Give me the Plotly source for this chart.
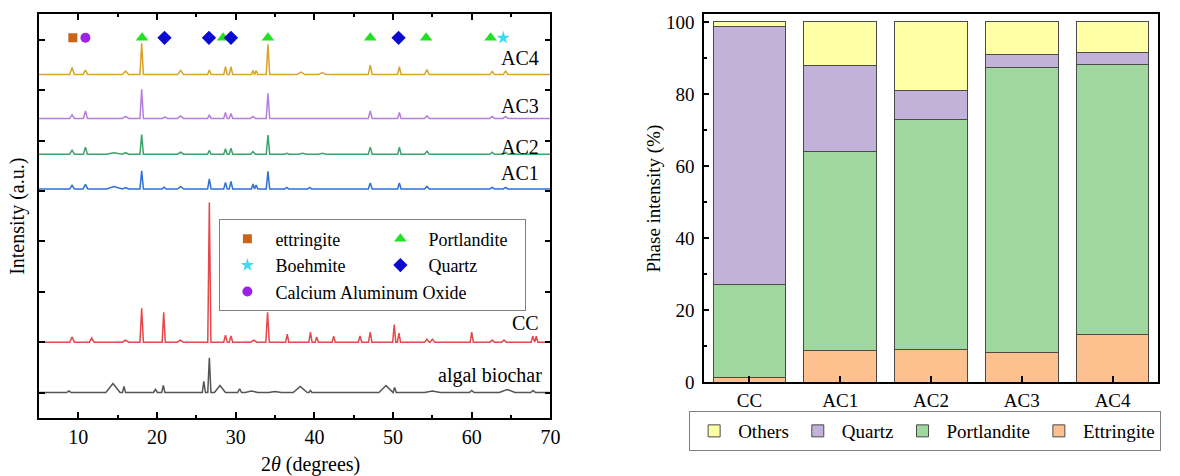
import plotly.graph_objects as go

FONT = "Liberation Serif"

# ---------------- XRD patterns (left panel) ----------------
# peaks: 2-theta position (deg), intensity above baseline (a.u.), half-width at base (deg)
# 100 a.u. = one y tick interval
ac4_pos = [9.2, 10.9, 16.0, 18.05, 23.0, 26.65, 28.7, 29.4, 32.2, 32.6, 34.1, 38.3, 41.0, 47.1, 50.8, 54.3, 62.6, 64.3]
ac4_int = [14, 9, 7, 62, 8, 9, 16, 16, 8, 8, 60, 5, 4, 19, 16, 10, 6, 7]
ac4_hw = [0.3, 0.3, 0.4, 0.22, 0.4, 0.22, 0.22, 0.22, 0.2, 0.2, 0.22, 0.5, 0.5, 0.25, 0.22, 0.3, 0.3, 0.3]

ac3_pos = [9.2, 10.9, 16.0, 18.05, 21.0, 23.0, 26.65, 28.7, 29.4, 32.2, 34.1, 47.1, 50.8, 54.3, 62.6, 64.3]
ac3_int = [7, 15, 4, 58, 3, 5, 7, 12, 10, 4, 50, 15, 12, 5, 4, 4]
ac3_hw = [0.3, 0.25, 0.4, 0.22, 0.3, 0.4, 0.22, 0.22, 0.22, 0.3, 0.22, 0.25, 0.22, 0.3, 0.3, 0.3]

ac2_pos = [9.2, 10.9, 14.5, 16.0, 18.05, 23.0, 26.65, 28.7, 29.4, 32.2, 34.1, 36.5, 38.5, 41.0, 47.1, 50.8, 54.3, 62.6, 64.3]
ac2_int = [8, 14, 3, 3, 39, 4, 8, 11, 12, 5, 38, 2, 2, 2, 14, 14, 6, 4, 4]
ac2_hw = [0.3, 0.25, 0.9, 0.4, 0.22, 0.4, 0.22, 0.22, 0.22, 0.3, 0.22, 0.3, 0.5, 0.5, 0.25, 0.22, 0.3, 0.3, 0.3]

ac1_pos = [9.2, 10.9, 14.5, 16.0, 18.05, 20.9, 23.0, 26.65, 28.7, 29.4, 32.2, 32.6, 34.1, 36.5, 39.4, 47.1, 50.8, 54.3, 62.6, 64.3]
ac1_int = [7, 9, 5, 3, 36, 4, 5, 20, 13, 15, 10, 8, 35, 3, 3, 12, 12, 5, 3, 3]
ac1_hw = [0.3, 0.3, 0.9, 0.4, 0.22, 0.25, 0.4, 0.22, 0.22, 0.22, 0.2, 0.2, 0.22, 0.25, 0.25, 0.25, 0.22, 0.3, 0.3, 0.3]

cc_pos = [9.2, 11.7, 16.0, 18.05, 20.85, 22.95, 26.65, 28.7, 29.4, 32.3, 34.05, 36.55, 39.5, 40.3, 42.45,
          45.8, 47.1, 50.15, 50.75, 54.3, 55.0, 60.0, 62.6, 64.1, 67.75, 68.2]
cc_int = [10, 8, 4, 67, 59, 4, 277, 14, 12, 4, 59, 16, 20, 10, 12, 12, 20, 35, 18, 6, 6, 20, 4, 4, 12, 12]
cc_hw = [0.3, 0.3, 0.4, 0.22, 0.2, 0.4, 0.2, 0.22, 0.22, 0.4, 0.22, 0.2, 0.2, 0.2, 0.2,
         0.22, 0.22, 0.2, 0.2, 0.3, 0.3, 0.2, 0.3, 0.3, 0.2, 0.2]

bc_pos = [8.8, 14.4, 15.8, 19.8, 20.8, 25.95, 26.65, 28.0, 30.5, 32.0, 35.0, 38.2, 39.5, 49.1, 50.2, 55.0, 60.0, 64.5, 67.8]
bc_int = [3, 18, 12, 6, 14, 22, 69, 14, 7, 3, 2, 12, 4, 14, 10, 3, 4, 6, 4]
bc_hw = [0.3, 0.9, 0.2, 0.25, 0.2, 0.2, 0.2, 0.7, 0.25, 0.8, 0.8, 0.9, 0.2, 0.9, 0.2, 1.0, 0.3, 1.0, 0.3]

# vertical offsets of the stacked patterns (a.u.)
offsets = {"AC4": 631, "AC3": 544, "AC2": 473, "AC1": 404, "CC": 100, "algal biochar": 0}
colors = {"AC4": "#D9A228", "AC3": "#B57EDC", "AC2": "#3AA56A", "AC1": "#2F6FD6",
          "CC": "#E5474B", "algal biochar": "#555555"}
patterns = {
    "AC4": (ac4_pos, ac4_int, ac4_hw),
    "AC3": (ac3_pos, ac3_int, ac3_hw),
    "AC2": (ac2_pos, ac2_int, ac2_hw),
    "AC1": (ac1_pos, ac1_int, ac1_hw),
    "CC": (cc_pos, cc_int, cc_hw),
    "algal biochar": (bc_pos, bc_int, bc_hw),
}
two_theta_range = [5, 70]

# phase identification marks (2-theta positions)
phases = [
    ("ettringite", [9.3], "square", "#C8651B", 9, "g1"),
    ("Boehmite", [64.0], "star", "#3FD9F2", 10, "g1"),
    ("Calcium Aluminum Oxide", [10.9], "circle", "#9B22E6", 10, "g1"),
    ("Portlandite", [18.1, 28.4, 34.1, 47.1, 54.2, 62.4], "triangle-up", "#22E022", 11, "g2"),
    ("Quartz", [20.95, 26.6, 29.4, 50.7], "diamond", "#0A0AD0", 11, "g2"),
]
mark_row = 704

# ---------------- phase intensity (right panel) ----------------
categories = ["CC", "AC1", "AC2", "AC3", "AC4"]
ettringite = [1.3, 8.8, 9.1, 8.1, 13.1]
portlandite = [25.7, 55.2, 63.8, 79.2, 75.1]
quartz = [71.8, 23.9, 8.1, 3.6, 3.2]
others = [1.2, 12.1, 19.0, 9.1, 8.6]
bar_series = [("Ettringite", ettringite, "#FDC18F"), ("Portlandite", portlandite, "#9FD79F"),
              ("Quartz", quartz, "#C2B1D8"), ("Others", others, "#FFFFA6")]

fig = go.Figure()


def profile(pos, inten, hw, base):
    xs, ys = [two_theta_range[0]], [base]
    for p, h, w in sorted(zip(pos, inten, hw)):
        xs += [p - w, p, p + w]
        ys += [base, base + h, base]
    xs.append(two_theta_range[1])
    ys.append(base)
    return xs, ys


for name, (pos, inten, hw) in patterns.items():
    xs, ys = profile(pos, inten, hw, offsets[name])
    fig.add_trace(go.Scatter(x=xs, y=ys, mode="lines", line=dict(color=colors[name], width=1.5),
                             showlegend=False, xaxis="x", yaxis="y", hoverinfo="skip"))

for name, xs, sym, col, size, grp in phases:
    fig.add_trace(go.Scatter(x=xs, y=[mark_row] * len(xs), mode="markers", name=name,
                             marker=dict(symbol=sym, color=col, size=size, line=dict(width=0)),
                             legendgroup=grp, legend="legend", xaxis="x", yaxis="y"))

for name, vals, col in bar_series:
    fig.add_trace(go.Bar(x=categories, y=vals, name=name, marker=dict(color=col, line=dict(color="#4a4a4a", width=1)),
                         width=0.8, legend="legend2", xaxis="x2", yaxis="y2"))

# labels of the patterns (right aligned)
label_y = {"AC4": 663, "AC3": 568, "AC2": 487, "AC1": 435, "CC": 138, "algal biochar": 33}
annotations = []
for name, yv in label_y.items():
    annotations.append(dict(x=68.8 if name != "algal biochar" else 69.2, y=yv, xref="x", yref="y",
                            text=name, showarrow=False, xanchor="right", yanchor="middle",
                            font=dict(family=FONT, size=20, color="black")))

annotations += [
    dict(x=-0.0198, y=0.5, xref="paper", yref="paper", text="Intensity (a.u.)", textangle=-90,
         showarrow=False, xanchor="center", yanchor="middle", font=dict(family=FONT, size=20, color="black")),
    dict(x=0.2423, y=-0.116, xref="paper", yref="paper", text="2<i>θ</i> (degrees)",
         showarrow=False, xanchor="center", yanchor="middle", font=dict(family=FONT, size=20, color="black")),
    dict(x=0.5500, y=0.5444, xref="paper", yref="paper", text="Phase intensity (%)", textangle=-90,
         showarrow=False, xanchor="center", yanchor="middle", font=dict(family=FONT, size=19, color="black")),
]

axis_common = dict(showline=True, linecolor="black", linewidth=1.5, showgrid=False, zeroline=False,
                   ticks="inside", tickcolor="black", tickwidth=1.5)

fig.update_layout(
    width=1180, height=476,
    margin=dict(l=39, r=12, t=13, b=58),
    paper_bgcolor="white", plot_bgcolor="white",
    font=dict(family=FONT, size=20, color="black"),
    barmode="stack",
    xaxis=dict(domain=[0, 0.45704], range=two_theta_range, dtick=10, tick0=10, mirror="ticks", ticklen=6,
               minor=dict(dtick=5, ticks="inside", ticklen=3, tickcolor="black", tickwidth=1.5),
               tickfont=dict(size=20), ticklabelstandoff=0, anchor="y", **axis_common),
    yaxis=dict(domain=[0, 1], range=[-50.6, 751.3], tickvals=[0, 100, 200, 300, 400, 500, 600, 700],
               showticklabels=False, mirror="ticks", ticklen=6, anchor="x", **axis_common),
    xaxis2=dict(domain=[0.59433, 1], range=[-0.5, 4.5], mirror=True, ticklen=6, tickfont=dict(size=19),
                anchor="y2", **axis_common),
    yaxis2=dict(domain=[0.08889, 1], range=[0, 102.2], tickvals=[0, 20, 40, 60, 80, 100], mirror=True, ticklen=5,
                minor=dict(tickvals=[10, 30, 50, 70, 90], ticks="inside", ticklen=3, tickcolor="black", tickwidth=1.5),
                tickfont=dict(size=19), ticklabelstandoff=4, anchor="x2", **axis_common),
    legend=dict(x=0.1612, y=0.4914, xanchor="left", yanchor="top", orientation="h", traceorder="grouped",
                entrywidth=92, itemwidth=46, bordercolor="#808080", borderwidth=1, bgcolor="white",
                font=dict(family=FONT, size=18)),
    legend2=dict(x=0.581, y=0.0173, xanchor="left", yanchor="top", orientation="h", traceorder="reversed",
                 itemwidth=38, bordercolor="#808080", borderwidth=1, bgcolor="white",
                 font=dict(family=FONT, size=19)),
    annotations=annotations,
)

fig.write_html("out.html")
